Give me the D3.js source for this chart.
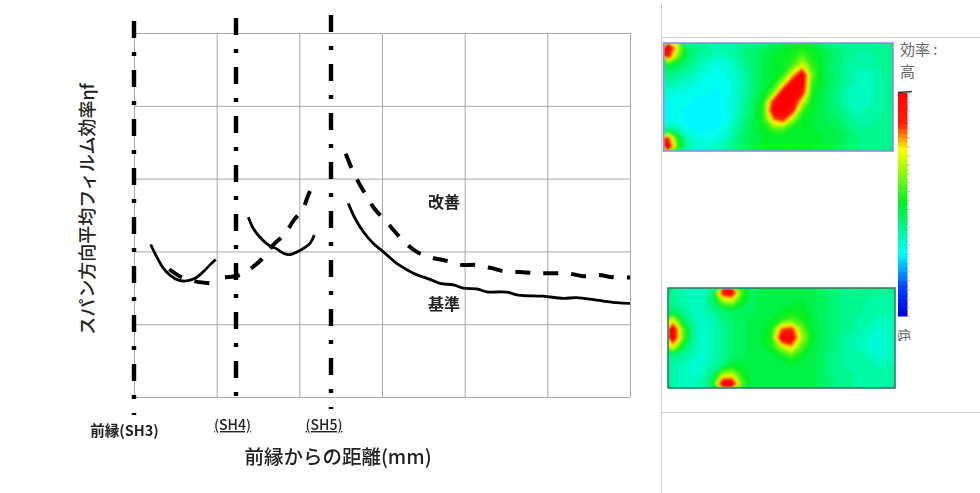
<!DOCTYPE html>
<html lang="ja"><head><meta charset="utf-8">
<script src="https://cdn.jsdelivr.net/npm/d3@7/dist/d3.min.js"></script>
<style>html,body{margin:0;padding:0;background:#fff}svg{display:block}
text{font-family:"Noto Sans CJK JP","Noto Sans",sans-serif;fill:#222}</style></head>
<body><svg id="c" width="980" height="493"></svg>
<script>
const baselineA=[[20.2,41.9],[27.5,38.5],[35.4,35.4],[43.5,33.5],[53.6,32.1],[63.8,31.9],[73.8,32.6],[83.8,34.4],[91.9,36.3],[98.8,37.8]];
const baselineB=[[138.3,49.4],[144.3,46.3],[152.4,43.9],[162.5,41.8],[172.6,40.7],[180.6,39.5],[188.7,39.1],[196.8,39.8],[206.9,41.1],[212.9,42.2],[218.1,44.5]];
const baselineC=[[259.2,53.2],[267.3,49.1],[277.4,45.4],[289.5,42.2],[301.6,39.9],[317.8,36.7],[337.9,34],[358.1,32.3],[370.2,31.2],[386.3,30.8],[398.4,29.9],[414.6,29.7],[426.7,28.9],[450.9,28.8],[464.9,28],[495.1,27.7],[519.3,27.1],[535.5,27.3],[559.7,26.6],[583.9,25.9],[600,25.7]];
const improvedA=[[42.7,35.1],[57.7,32.9],[75.8,31.7],[94,31.2]];
const improvedB=[[110,32.9],[128.2,33.5],[144.3,35.8],[157.3,38.5],[168.5,41.8],[182.7,44.8],[192.7,48.4],[204.1,51.6],[210.8,55.5],[216.8,58.7]];
const improvedC=[[256.1,66.8],[263.3,62.8],[271.3,59.1],[281.5,55.2],[290.7,51.8],[303.6,48.6],[315.7,45.4],[329,42.2],[342.7,39.8],[360.1,38.3],[378.3,37.4],[396.4,36.3],[414.6,36.3],[432.7,35.4],[450.9,34.4],[470.2,34.3],[487.1,34],[506.4,34],[524.1,34],[543.5,33.2],[561.7,33.5],[579.8,32.9],[600,32.8]];
const xTicks=[0,100,200,300,400,500,600];
const yTicks=[0,20,40,60,80,100];
const holes=[{x:0,top:21,bottom:415,label:"前縁(SH3)"},{x:123.4,top:18,bottom:409,label:"(SH4)"},{x:238.3,top:15,bottom:409,label:"(SH5)"}];
const topMap=[
[100,70,42,40,38,36,36,38,40,42,44,46,48,50,52,50,46,42,40,38,38,38,38,38],
[90,60,44,38,36,34,34,36,40,42,46,48,50,52,58,52,48,44,40,38,36,36,38,38],
[48,44,40,36,32,30,30,34,38,42,46,48,50,56,72,55,48,42,40,36,36,36,38,38],
[40,38,36,32,30,28,30,32,36,42,46,48,52,75,100,60,48,44,40,36,34,34,36,38],
[36,34,32,30,28,28,28,32,36,42,46,50,70,100,100,55,48,44,40,36,34,34,36,38],
[32,30,30,28,28,27,28,32,36,42,48,60,100,100,95,52,46,42,38,34,34,34,36,38],
[30,28,28,27,27,27,28,32,38,44,52,92,100,100,72,50,46,42,38,34,34,34,36,38],
[28,28,27,27,27,27,28,32,38,44,56,100,100,92,56,48,46,42,40,36,34,36,36,38],
[28,28,27,27,27,27,28,34,40,46,54,80,90,64,50,48,46,44,42,38,36,36,38,38],
[38,34,28,27,27,27,30,36,42,46,50,58,58,50,50,48,46,46,44,40,38,38,38,38],
[85,50,34,30,28,30,32,38,44,46,48,48,48,48,48,48,48,46,46,42,40,38,38,38],
[100,55,36,32,32,34,36,40,44,46,48,48,50,50,48,48,46,46,44,42,40,38,38,38]];
const bottomMap=[
[38,36,34,34,40,92,100,56,44,46,46,46,46,46,46,44,42,40,38,38,38,38,38],
[38,36,34,34,42,62,66,50,44,46,46,46,46,48,46,44,42,40,38,38,36,36,36],
[44,38,34,34,38,42,44,44,44,46,46,48,50,50,46,44,42,40,38,38,36,36,36],
[70,44,36,32,34,40,42,44,46,46,48,52,58,52,48,44,42,40,38,36,36,34,34],
[100,58,38,32,34,38,42,44,46,46,52,82,88,62,48,44,42,40,38,36,34,32,34],
[100,60,38,32,34,38,42,44,46,48,52,100,100,66,50,44,42,38,36,34,32,30,34],
[72,46,36,32,34,38,42,44,46,46,52,66,78,58,48,44,42,38,36,34,32,30,34],
[40,38,34,32,34,38,42,44,46,46,46,50,56,50,46,44,40,38,36,36,34,32,34],
[36,34,32,32,36,40,48,48,46,46,46,46,48,46,46,44,40,38,36,36,36,34,36],
[36,34,32,34,40,64,68,52,46,46,46,46,46,46,46,44,40,38,38,36,36,36,36],
[36,34,34,36,46,100,100,58,46,46,46,46,46,46,46,44,42,38,38,36,36,36,36]];
const colorStops=[0,12,27,50,74,85,100];
const colorRange=["#0000e0","#0040ff","#00ffff","#00f020","#ffff00","#ff2000","#ff0000"];
const legendLevels=d3.range(0,100,2);

const svg=d3.select("#c");
const defs=svg.append("defs");
defs.append("filter").attr("id","soft").append("feGaussianBlur").attr("stdDeviation",0.5);
defs.append("filter").attr("id","softer").append("feGaussianBlur").attr("stdDeviation",1);
const color=d3.scaleLinear().domain(colorStops).range(colorRange).clamp(true);
const x=d3.scaleLinear().domain([0,600]).range([134,630]);
const y=d3.scaleLinear().domain([0,100]).range([397,33]);

const rule=(a,b,c,d)=>svg.append("line").attr("x1",a).attr("y1",b).attr("x2",c).attr("y2",d).attr("stroke","#cfcfcf");
rule(661.5,4,661.5,493);rule(662,37.5,980,37.5);rule(662,412.5,980,412.5);

const grid=svg.append("g").attr("filter","url(#soft)");
grid.append("g").attr("transform","translate(0,397)").call(d3.axisBottom(x).tickValues(xTicks).tickSize(-364).tickFormat(""));
grid.append("g").attr("transform","translate(134,0)").call(d3.axisLeft(y).tickValues(yTicks).tickSize(-496).tickFormat(""));
grid.selectAll(".domain").remove();
grid.selectAll(".tick line").attr("stroke","#a8a8a8").attr("stroke-width",1);

const line=d3.line().x(d=>x(d[0])).y(d=>y(d[1])).curve(d3.curveCatmullRom);
const marks=svg.append("g").attr("filter","url(#soft)").attr("fill","none").attr("stroke","#000");
[baselineA,baselineB,baselineC].forEach(s=>marks.append("path").attr("d",line(s)).attr("stroke-width",2.8));
[improvedA,improvedB,improvedC].forEach(s=>marks.append("path").attr("d",line(s)).attr("stroke-width",4).attr("stroke-dasharray","15 13"));
holes.forEach(h=>marks.append("line").attr("x1",x(h.x)).attr("x2",x(h.x)).attr("y1",h.top).attr("y2",h.bottom)
  .attr("stroke-width",4.4).attr("stroke-dasharray","17 14 4 14"));

const label=(t,px,py,size,weight,anchor)=>svg.append("text").text(t).attr("x",px).attr("y",py).attr("font-size",size).attr("font-weight",weight||400).attr("text-anchor",anchor||"middle");
label("スパン方向平均フィルム効率ηf",0,0,18,500).attr("transform","translate(94,209) rotate(-90)");
label("前縁からの距離(mm)",338,464,19.5,500);
label(holes[0].label,124.5,436,14.5,700);
label(holes[1].label,232.5,430,14,500).attr("text-decoration","underline");
label(holes[2].label,324,430,14,500).attr("text-decoration","underline");
label("改善",444,208,16,700);
label("基準",444,310,16,700);

function heat(values,x0,x1,y0,y1,edge){
  const rows=values.length,cols=values[0].length;
  const sx=d3.scaleLinear().domain([0,cols]).range([x0,x1]);
  const sy=d3.scaleLinear().domain([0,rows]).range([y0,y1]);
  const levels=d3.range(0,100,2.5);
  const cs=d3.contours().size([cols,rows]).smooth(true).thresholds(levels)(values.flat());
  const path=d3.geoPath(d3.geoTransform({point(a,b){this.stream.point(sx(a),sy(b));}}));
  const id="clip"+x0;
  defs.append("clipPath").attr("id",id).append("rect").attr("x",x0).attr("y",y0).attr("width",x1-x0).attr("height",y1-y0);
  const g=svg.append("g").attr("clip-path",`url(#${id})`).append("g").attr("filter","url(#softer)");
  g.append("rect").attr("x",x0-4).attr("y",y0-4).attr("width",x1-x0+8).attr("height",y1-y0+8).attr("fill",color(d3.mean(values.flat())));
  g.selectAll("path").data(cs).join("path").attr("d",path).attr("fill",d=>color(d.value+1.25));
  svg.append("rect").attr("x",x0).attr("y",y0).attr("width",x1-x0).attr("height",y1-y0).attr("fill","none").attr("stroke",edge).attr("stroke-width",1.6).attr("filter","url(#soft)");
}
heat(topMap,663.5,893,43,151,"#8f8fe6");
heat(bottomMap,668,895,288,388,"#2f7f68");

const ly=d3.scaleLinear().domain([0,100]).range([316,93]);
const bar=svg.append("g").attr("filter","url(#soft)");
bar.selectAll("rect").data(legendLevels).join("rect").attr("x",898).attr("width",9.5)
  .attr("y",d=>ly(d+2)).attr("height",d=>ly(d)-ly(d+2)+0.5).attr("fill",d=>color(d));
const la=bar.append("g").attr("transform","translate(907,0)").call(d3.axisRight(ly).tickValues(d3.range(0,101,4)).tickSize(3).tickFormat(""));
la.select(".domain").remove();la.selectAll(".tick line").attr("stroke","#bbb");
bar.append("line").attr("x1",898).attr("x2",912).attr("y1",92.5).attr("y2",91.5).attr("stroke","#333").attr("stroke-width",1.6);
label("効率 :",900,55,15,400,"start").style("fill","#666");
label("高",900,77,15,400,"start").style("fill","#666");
label("低",0,0,13,400).style("fill","#666").attr("transform","translate(900,335) rotate(90)");
</script></body></html>
